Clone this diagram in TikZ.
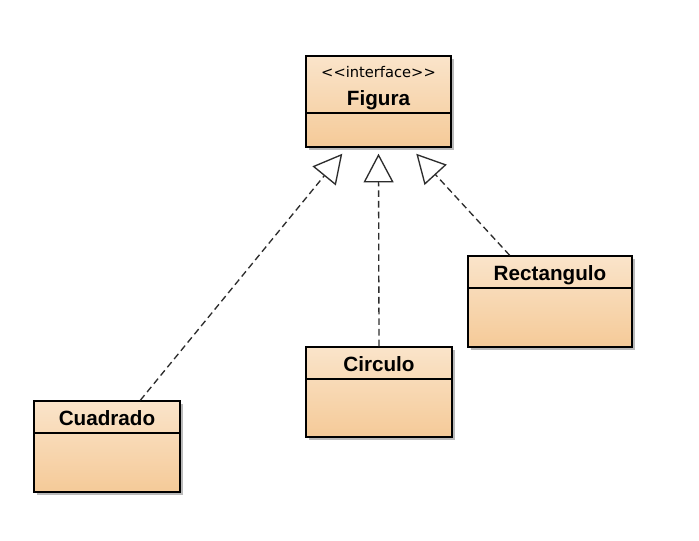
\documentclass[tikz,border=0pt]{standalone}
\usepackage{fontspec}
\setmainfont{Liberation Sans}
\newfontfamily\dvfont{DejaVu Sans}
\usetikzlibrary{arrows.meta,calc,fit,shadows}
\definecolor{boxtop}{RGB}{250,228,202}
\definecolor{boxbot}{RGB}{245,202,152}
\definecolor{lnk}{RGB}{45,45,45}
\tikzset{
  classbox/.style={draw=black, line width=1.1pt, inner sep=0pt,
    top color=boxtop, bottom color=boxbot,
    drop shadow={shadow xshift=2.2pt, shadow yshift=-2.2pt, opacity=0.45, fill=black!60}},
  divider/.style={draw=black, line width=1.1pt},
  cname/.style={anchor=base, inner sep=0pt, font=\bfseries\fontsize{15.5}{18}\selectfont},
  stereo/.style={anchor=base, inner sep=0pt, font=\dvfont\fontsize{11}{13}\selectfont},
  realize/.style={draw=lnk, line width=1pt, dash pattern=on 5pt off 3pt,
    -{Triangle[open, length=21.5pt, width=22.5pt, fill=white, line width=1pt]}}
}
\begin{document}
\begin{tikzpicture}[x=0.75pt, y=-0.75pt]
\useasboundingbox[fill=white] (0,0) rectangle (699,540);
% boxes
\node[classbox, fit={(306,56) (451,147)}] (fig) {};
\node[classbox, fit={(34,401) (180,492)}] (cua) {};
\node[classbox, fit={(306,347) (452,437)}] (cir) {};
\node[classbox, fit={(468,256) (632,347)}] (rec) {};
% dividers
\draw[divider] ($(fig.west)+(0,11.5)$) -- ($(fig.east)+(0,11.5)$);
\draw[divider] ($(cua.west)+(0,-13.5)$) -- ($(cua.east)+(0,-13.5)$);
\draw[divider] ($(cir.west)+(0,-13)$) -- ($(cir.east)+(0,-13)$);
\draw[divider] ($(rec.west)+(0,-13.5)$) -- ($(rec.east)+(0,-13.5)$);
% texts
\node[stereo] (figst) at ($(fig.north)+(0,22)$) {<{}<interface>{}>};
\node[cname] (figname) at ($(fig.north)+(0,50)$) {Figura};
\node[cname] (cuaname) at ($(cua.north)+(0,25.5)$) {Cuadrado};
\node[cname] (cirname) at ($(cir.north)+(0,25.5)$) {Circulo};
\node[cname] (recname) at ($(rec.north)+(0,25.5)$) {Rectangulo};
% connector end points
\coordinate (tipL) at ($(fig.south west)+(37,6)$);
\coordinate (tipM) at ($(fig.south)+(0,6)$);
\coordinate (tipR) at ($(fig.south west)+(111,6)$);
\coordinate (srcL) at ($(cua.north west)!0.726!(cua.north east)$);
\coordinate (srcR) at ($(rec.north west)!0.256!(rec.north east)$);
% connectors
\draw[realize] (srcL) -- (tipL);
\draw[realize] (cir.north) -- (tipM);
\draw[realize] (srcR) -- (tipR);
\end{tikzpicture}
\end{document}
